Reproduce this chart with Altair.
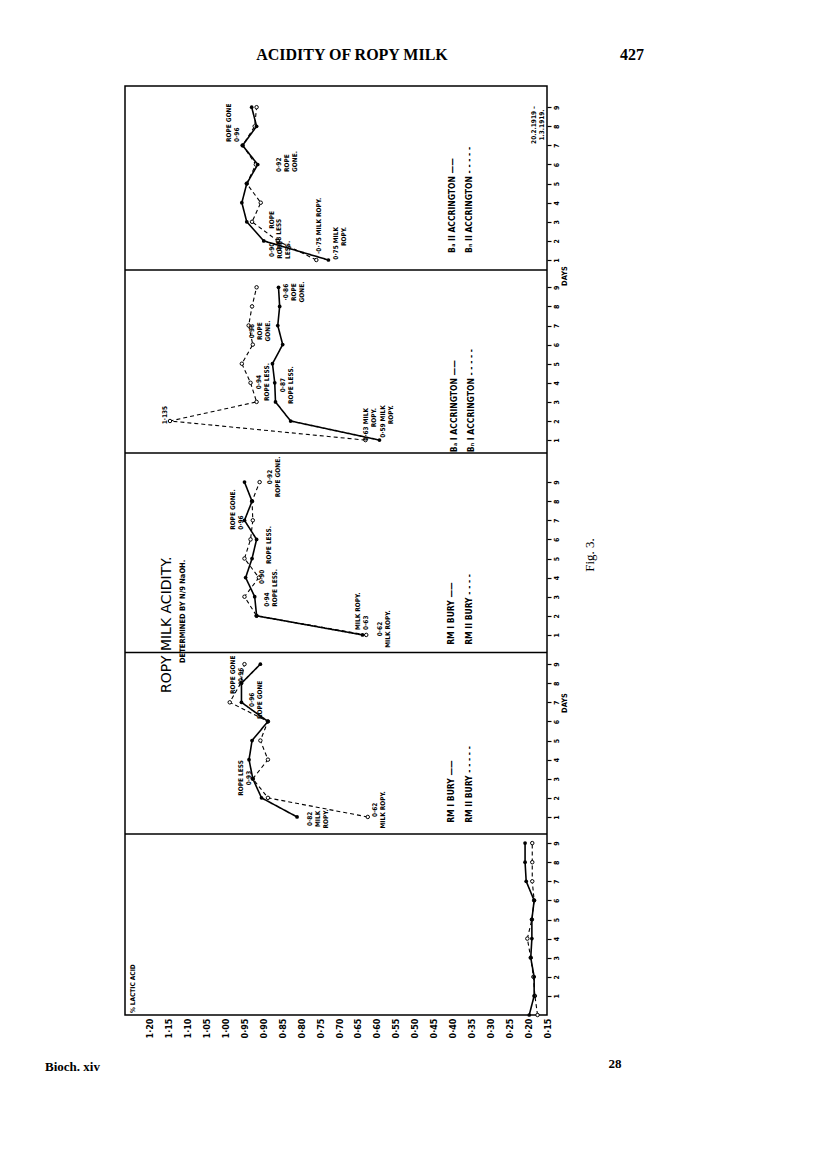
import altair as alt
import pandas as pd

# ---------------- data ----------------
acid_ticks = [0.15, 0.20, 0.25, 0.30, 0.35, 0.40, 0.45, 0.50, 0.55, 0.60, 0.65,
              0.70, 0.75, 0.80, 0.85, 0.90, 0.95, 1.00, 1.05, 1.10, 1.15, 1.20]

days_p1 = [0, 1, 2, 3, 4, 5, 6, 7, 8, 9]
days = [1, 2, 3, 4, 5, 6, 7, 8, 9]

# panel 1 (bottom)
p1_solid = [0.197, 0.184, 0.184, 0.193, 0.19, 0.19, 0.184, 0.205, 0.208, 0.208]
p1_dashed = [0.175, 0.182, 0.186, 0.193, 0.202, 0.19, 0.184, 0.189, 0.189, 0.189]
# panel 2  RM I / RM II Bury
p2_solid = [0.811, 0.905, 0.928, 0.938, 0.930, 0.888, 0.958, 0.958, 0.908]
p2_dashed = [0.624, 0.888, 0.928, 0.888, 0.908, 0.888, 0.989, 0.960, 0.950]
# panel 3  RM Bury
p3_solid = [0.638, 0.918, 0.923, 0.947, 0.930, 0.918, 0.950, 0.930, 0.950]
p3_dashed = [0.628, 0.918, 0.950, 0.912, 0.950, 0.934, 0.928, 0.930, 0.910]
# panel 4  Ba I / Bn I Accrington
p4_solid = [0.593, 0.828, 0.868, 0.870, 0.876, 0.849, 0.862, 0.857, 0.860]
p4_dashed = [0.630, 1.147, 0.918, 0.934, 0.957, 0.928, 0.939, 0.930, 0.918]
# panel 5  Ba II / Bn II Accrington
p5_solid = [0.728, 0.899, 0.944, 0.957, 0.944, 0.915, 0.955, 0.918, 0.931]
p5_dashed = [0.760, 0.862, 0.930, 0.907, 0.944, 0.920, 0.955, 0.923, 0.918]

# annotations: (panel, day position, acid position, text)
notes_center = [
    (5, 1.53, 0.878, "0·90\nROPE\nLESS."),
    (5, 3.10, 0.878, "ROPE"),
    (5, 2.31, 0.860, "0·88 LESS"),
    (5, 8.07, 0.184, "20.2.1919 –\n1.3.1919."),
    (4, 2.31, 1.161, "1·135"),
    (4, 4.04, 0.9125, "0·94\nROPE LESS."),
    (4, 6.71, 0.931, "0·96\nROPE\nGONE."),
    (4, 3.88, 0.847, "0·87\nROPE LESS."),
    (4, 8.75, 0.839, "·0·86\nROPE\nGONE."),
    (3, 9.27, 0.883, "0·92\nROPE GONE."),
    (3, 4.04, 0.905, "0·90"),
    (3, 5.71, 0.886, "ROPE LESS."),
    (3, 1.31, 0.591, "0·62\nMILK ROPY."),
    (2, 8.44, 0.981, "ROPE GONE\n0·96"),
    (2, 7.13, 0.931, "0·96\nROPE GONE"),
    (2, 3.04, 0.960, "ROPE LESS\n0·93"),
    (2, 0.90, 0.778, "0·82\nMILK\nROPY."),
    (2, 1.37, 0.606, "0·62\nMILK ROPY."),
]
notes_left = [
    (5, 7.18, 0.992, "ROPE GONE\n0·96"),
    (5, 5.61, 0.860, "0·92\nROPE\nGONE."),
    (5, 1.32, 0.752, "·0·75 MILK ROPY."),
    (3, 6.50, 0.981, "ROPE GONE.\n0·96"),
    (3, 2.47, 0.891, "0·94\nROPE LESS."),
    (3, 1.26, 0.651, "MILK ROPY.\n0·63"),
    (1, 0.10, 1.245, "% LACTIC ACID"),
]
notes_right = [
    (5, 2.73, 0.707, "0·75 MILK\nROPY."),
    (4, 2.68, 0.628, "0·63 MILK\nROPY."),
    (4, 2.83, 0.585, "0·59 MILK\nROPY."),
]
legend_items = [
    (5, 1.37, 0.401, "Bₐ II ACCRINGTON ——"),
    (5, 1.37, 0.356, "Bₙ II ACCRINGTON - - - - -"),
    (4, 0.37, 0.395, "Bₐ I ACCRINGTON ——"),
    (4, 0.37, 0.351, "Bₙ I ACCRINGTON - - - - -"),
    (3, 0.48, 0.403, "RM I BURY ——"),
    (3, 0.48, 0.356, "RM II BURY - - - -"),
    (2, 0.69, 0.403, "RM I BURY ——"),
    (2, 0.69, 0.356, "RM II BURY - - - - -"),
]
title_items = [(3, -2.04, 1.155, "ROPY   MILK ACIDITY.")]
subtitle_items = [(3, -0.47, 1.113, "DETERMINED BY N/9 NaOH.")]

# ---------------- layout ----------------
W, H = 422, 929
X_DOM = [0.15, 1.266]
Y_DOM = [0, 48.64]
panel_offset = {1: 0.0, 2: 9.37, 3: 18.90, 4: 29.10, 5: 38.53}
panel_bounds = [9.48, 18.98, 29.42, 39.01]

xs = alt.Scale(domain=X_DOM, reverse=True, nice=False, zero=False)
ys = alt.Scale(domain=Y_DOM, nice=False, zero=False)

series_table = [
    (1, "solid", days_p1, p1_solid), (1, "dashed", days_p1, p1_dashed),
    (2, "solid", days, p2_solid), (2, "dashed", days, p2_dashed),
    (3, "solid", days, p3_solid), (3, "dashed", days, p3_dashed),
    (4, "solid", days, p4_solid), (4, "dashed", days, p4_dashed),
    (5, "solid", days, p5_solid), (5, "dashed", days, p5_dashed),
]
rows = []
for p, ser, dd, vals in series_table:
    for d, v in zip(dd, vals):
        rows.append(dict(panel=p, series=ser, day=d, acid=v,
                         pos=panel_offset[p] + d, key=f"{p}-{ser}"))
df = pd.DataFrame(rows)

tick_pos = [panel_offset[p] + d for p in range(1, 6) for d in days]
y_label_expr = (
    "format(datum.value - (datum.value < {0} ? {4} : datum.value < {1} ? {5} : "
    "datum.value < {2} ? {6} : datum.value < {3} ? {7} : {8}), 'd')"
).format(*panel_bounds, panel_offset[1], panel_offset[2], panel_offset[3],
         panel_offset[4], panel_offset[5])

FONT = "DejaVu Sans Condensed"

x_axis = alt.Axis(values=acid_ticks, title=None, orient="bottom", domain=False,
                  grid=False, ticks=False, labelAngle=270, labelAlign="right",
                  labelBaseline="middle", labelPadding=3,
                  labelExpr="replace(format(datum.value, '.2f'), '.', '·')",
                  labelFont=FONT, labelFontWeight="bold", labelFontSize=9,
                  labelColor="black")
y_axis = alt.Axis(values=tick_pos, title=None, orient="right", domain=False,
                  grid=False, ticks=True, tickSize=4, tickColor="black",
                  tickWidth=1.2, labelAngle=270, labelAlign="center",
                  labelBaseline="top", labelPadding=1, labelExpr=y_label_expr,
                  labelFont=FONT, labelFontWeight="bold", labelFontSize=7,
                  labelColor="black")

X = alt.X("acid:Q", scale=xs, axis=x_axis)
Y = alt.Y("pos:Q", scale=ys, axis=y_axis)

lines = alt.Chart(df).mark_line(color="black").encode(
    x=X, y=Y,
    detail="key:N",
    order="day:Q",
    strokeDash=alt.StrokeDash("series:N", scale=alt.Scale(
        domain=["solid", "dashed"], range=[[1, 0], [4, 3]]), legend=None),
    strokeWidth=alt.StrokeWidth("series:N", scale=alt.Scale(
        domain=["solid", "dashed"], range=[1.6, 1.1]), legend=None),
)

pts_solid = alt.Chart(df).transform_filter(alt.datum.series == "solid").mark_point(
    filled=True, color="black", size=14, opacity=1).encode(x=X, y=Y)
pts_dashed = alt.Chart(df).transform_filter(alt.datum.series == "dashed").mark_point(
    filled=False, color="black", fill="white", size=12, strokeWidth=1, opacity=1).encode(x=X, y=Y)

seps = alt.Chart(pd.DataFrame({"pos": panel_bounds})).mark_rule(
    color="black", strokeWidth=1.5).encode(y=Y)


def text_layer(items, size, align="center", font=FONT, weight="bold", lh=None):
    d = pd.DataFrame([dict(acid=a, pos=panel_offset[p] + dy, t=t) for (p, dy, a, t) in items])
    return alt.Chart(d).mark_text(
        angle=270, align=align, baseline="middle", fontSize=size, font=font,
        fontWeight=weight, lineBreak="\n", lineHeight=lh or size + 1.5,
        color="black").encode(x=X, y=Y, text="t:N")


def page_text(txt, x, y, size, font="Liberation Serif", weight="bold",
              align="center", angle=0):
    return alt.Chart(pd.DataFrame({"t": [txt]})).mark_text(
        align=align, baseline="middle", fontSize=size, font=font,
        fontWeight=weight, angle=angle, color="black").encode(
        x=alt.value(x), y=alt.value(y), text="t:N")


layers = [
    seps, lines, pts_dashed, pts_solid,
    text_layer(notes_center, 6.5, "center"),
    text_layer(notes_left, 6.5, "left"),
    text_layer(notes_right, 6.5, "right"),
    text_layer(legend_items, 8.5, "left"),
    text_layer(title_items, 14, "left", font="DejaVu Sans", weight="normal"),
    text_layer(subtitle_items, 7.5, "left"),
    page_text("ACIDITY OF ROPY MILK", 227, -31, 16),
    page_text("427", 507, -31, 16),
    page_text("Bioch. xiv", -80, 981, 13, align="left"),
    page_text("28", 490, 978, 13),
    page_text("Fig. 3.", 465, 469, 13, weight="normal", angle=270),
    page_text("DAYS", 440, 617, 7.5, font=FONT, angle=270),
    page_text("DAYS", 440, 190, 7.5, font=FONT, angle=270),
]

chart = alt.layer(*layers).properties(
    width=W, height=H,
    autosize=alt.AutoSizeParams(type="none"),
    padding={"left": 117, "top": 78, "right": 261, "bottom": 137},
).configure(
    background="white",
    view=alt.ViewConfig(stroke="black", strokeWidth=1.5),
)

chart.save("out.html", embed_options={"renderer": "svg", "actions": False})
